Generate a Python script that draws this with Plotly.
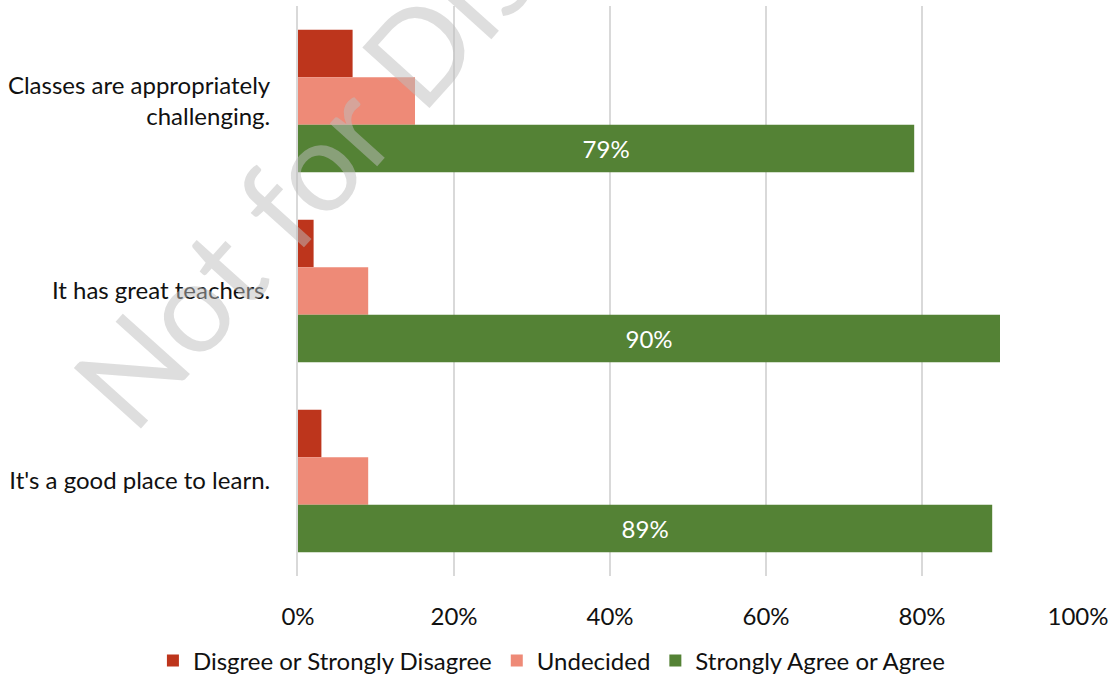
import plotly.graph_objects as go

categories = ["Classes are appropriately<br>challenging.", "It has great teachers.", "It's a good place to learn."]
series_names = ["Disgree or Strongly Disagree", "Undecided", "Strongly Agree or Agree"]
disagree = [7, 2, 3]
undecided = [15, 9, 9]
agree = [79, 90, 89]
tick_vals = [0, 20, 40, 60, 80, 100]
tick_text = ["0%", "20%", "40%", "60%", "80%", "100%"]
watermark = "Not for Distribution"

colors = ["#BD351C", "#EE8A77", "#548235"]
FONT = "Lato"
FS = 24

fig = go.Figure()
fig.add_trace(go.Bar(y=categories, x=disagree, orientation="h", name=series_names[0],
                     marker=dict(color=colors[0], line=dict(width=0))))
fig.add_trace(go.Bar(y=categories, x=undecided, orientation="h", name=series_names[1],
                     marker=dict(color=colors[1], line=dict(width=0))))
fig.add_trace(go.Bar(y=categories, x=agree, orientation="h", name=series_names[2],
                     marker=dict(color=colors[2], line=dict(width=0)),
                     text=[f"{v}%" for v in agree], textposition="inside",
                     insidetextanchor="middle",
                     textfont=dict(color="white", size=FS, family=FONT)))

fig.update_layout(
    width=1111, height=677,
    margin=dict(l=298, r=33, t=6, b=101, autoexpand=False),
    paper_bgcolor="white", plot_bgcolor="white",
    barmode="group", bargap=0.25, bargroupgap=0,
    font=dict(family=FONT, size=FS, color="#111111"),
    showlegend=True,
    legend=dict(orientation="h", xref="paper", yref="paper",
                x=-0.186, xanchor="left", y=-0.149, yanchor="middle",
                font=dict(size=FS, family=FONT, color="#111111"),
                itemwidth=30, tracegroupgap=0),
    uniformtext=dict(mode="show", minsize=FS),
)
fig.update_xaxes(range=[0, 100], tickvals=tick_vals, ticktext=tick_text,
                 showgrid=True, gridcolor="#D9D9D9", gridwidth=2,
                 zeroline=False, showline=False, ticks="",
                 ticklabelstandoff=24, tickfont=dict(size=FS, family=FONT))
fig.update_yaxes(autorange="reversed", showgrid=False, zeroline=False,
                 showline=True, linecolor="#D9D9D9", linewidth=2, ticks="",
                 ticklabelstandoff=21, tickfont=dict(size=FS, family=FONT))

fig.add_annotation(text=watermark, xref="paper", yref="paper",
                   x=(463 - 298) / 780, y=(576 + 1) / 570,
                   xanchor="center", yanchor="middle", showarrow=False,
                   textangle=-48,
                   font=dict(size=126, family=FONT, color="rgba(190,190,190,0.5)"))

fig.write_html("out.html", config={"displayModeBar": False},
               post_script="document.body.style.margin='0';document.body.style.padding='0';")
